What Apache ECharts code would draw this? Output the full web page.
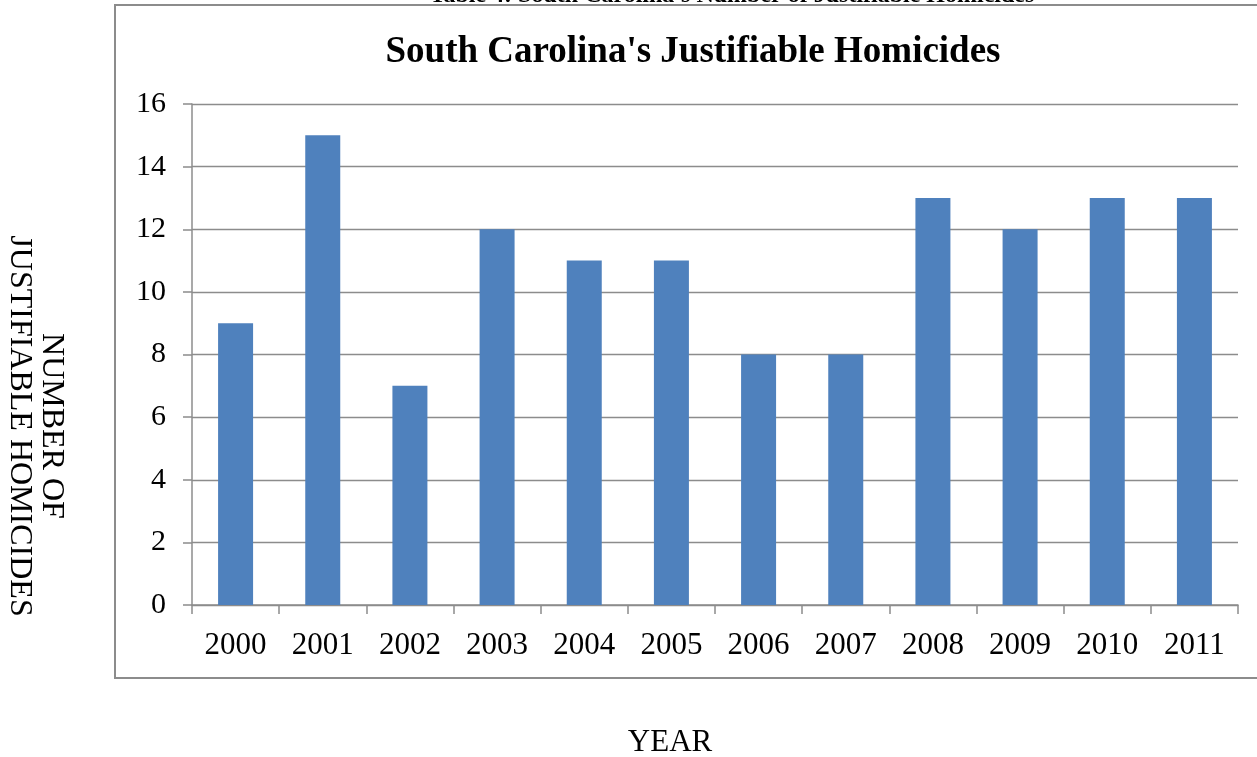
<!DOCTYPE html>
<html>
<head>
<meta charset="utf-8">
<style>
  html, body { margin: 0; padding: 0; background: #fff; }
  #chart { width: 1257px; height: 757px; }
</style>
<script src="https://cdn.jsdelivr.net/npm/echarts@6/dist/echarts.min.js"></script>
</head>
<body>
<div id="chart"></div>
<script>
// Justifiable homicides recorded in South Carolina, by year
const years = ['2000', '2001', '2002', '2003', '2004', '2005', '2006', '2007', '2008', '2009', '2010', '2011'];
const homicides = [9, 15, 7, 12, 11, 11, 8, 8, 13, 12, 13, 13];

const SERIF = '"Liberation Serif", "Times New Roman", serif';
const chart = echarts.init(document.getElementById('chart'), null, { renderer: 'canvas' });

chart.setOption({
  backgroundColor: '#ffffff',
  animation: false,
  title: {
    text: "South Carolina's Justifiable Homicides",
    left: 688,
    top: 29,
    textAlign: 'center',
    textStyle: { fontFamily: SERIF, fontSize: 37, fontWeight: 'bold', color: '#000' }
  },
  grid: { left: 192, right: 19, top: 104, bottom: 152 },
  xAxis: {
    type: 'category',
    data: years,
    axisLine: { lineStyle: { color: '#8c8c8c', width: 1.5 } },
    axisTick: { show: true, length: 9, lineStyle: { color: '#8c8c8c', width: 1.5 } },
    axisLabel: { fontFamily: SERIF, fontSize: 31, color: '#000', margin: 25 }
  },
  yAxis: {
    type: 'value',
    min: 0,
    max: 16,
    interval: 2,
    axisLine: { show: true, lineStyle: { color: '#8c8c8c', width: 1.5 } },
    axisTick: { show: true, length: 9, lineStyle: { color: '#8c8c8c', width: 1.5 } },
    splitLine: { lineStyle: { color: '#8c8c8c', width: 1.3 } },
    axisLabel: { fontFamily: SERIF, fontSize: 30, color: '#000', margin: 26 }
  },
  series: [{
    type: 'bar',
    data: homicides,
    barWidth: 35,
    itemStyle: { color: '#4f81bd' }
  }],
  graphic: [
    {
      type: 'rect',
      shape: { x: 115, y: 5, width: 1200, height: 673 },
      style: { fill: 'none', stroke: '#8c8c8c', lineWidth: 2 },
      z: -1
    },
    {
      type: 'text',
      x: 732,
      y: -4,
      style: {
        text: "Table 4: South Carolina's Number of Justifiable Homicides",
        fontFamily: SERIF, fontSize: 24, fontWeight: 'bold', fill: '#000',
        textAlign: 'center', textVerticalAlign: 'middle'
      }
    },
    {
      type: 'text',
      x: 35,
      y: 426,
      rotation: -Math.PI / 2,
      style: {
        text: 'NUMBER OF\nJUSTIFIABLE HOMICIDES',
        fontFamily: SERIF, fontSize: 32, fill: '#000',
        textAlign: 'center', textVerticalAlign: 'middle', lineHeight: 32
      }
    },
    {
      type: 'text',
      x: 670,
      y: 743,
      style: {
        text: 'YEAR',
        fontFamily: SERIF, fontSize: 31, fill: '#000',
        textAlign: 'center', textVerticalAlign: 'middle'
      }
    }
  ]
});
</script>
</body>
</html>
